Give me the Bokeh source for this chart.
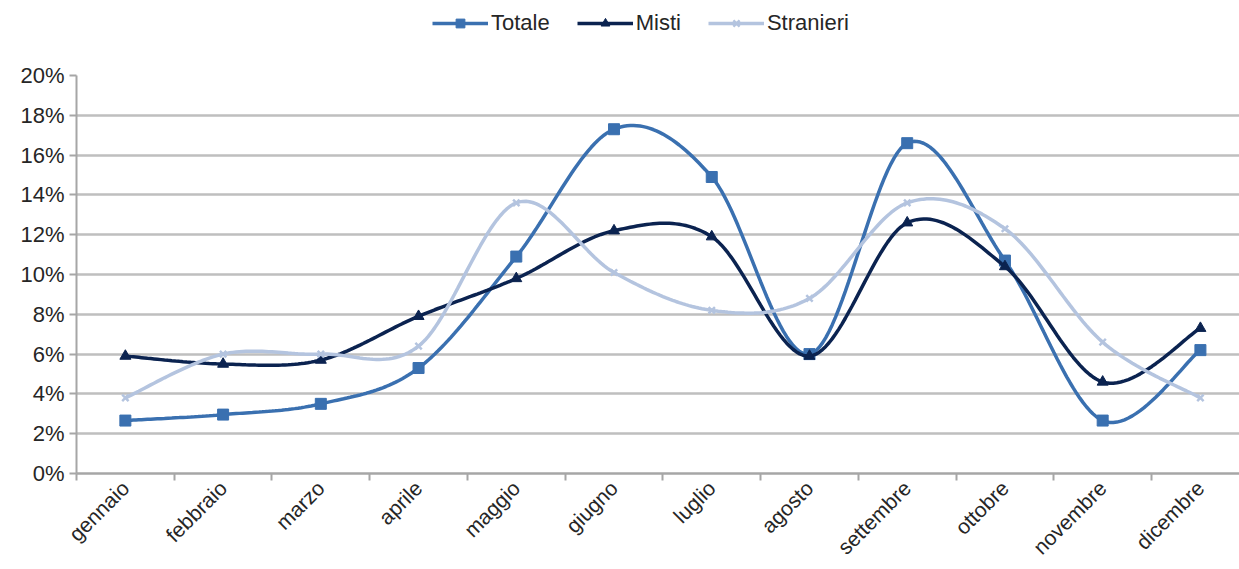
import numpy as np
from bokeh.plotting import figure
from bokeh.layouts import column
from bokeh.models import (Range1d, FixedTicker, NumeralTickFormatter, Legend, LegendItem)
from bokeh.embed import file_html
from bokeh.resources import INLINE

months = ["gennaio", "febbraio", "marzo", "aprile", "maggio", "giugno",
          "luglio", "agosto", "settembre", "ottobre", "novembre", "dicembre"]
totale = [0.0266, 0.0296, 0.035, 0.053, 0.109, 0.173, 0.149, 0.060, 0.166, 0.107, 0.0266, 0.062]
misti = [0.059, 0.055, 0.057, 0.079, 0.098, 0.122, 0.119, 0.059, 0.126, 0.104, 0.046, 0.073]
stranieri = [0.038, 0.060, 0.060, 0.064, 0.136, 0.101, 0.082, 0.088, 0.136, 0.123, 0.066, 0.038]

series = [("Totale", totale, "#3A70B0", "square"),
          ("Misti", misti, "#0B2350", "triangle"),
          ("Stranieri", stranieri, "#B4C4DF", "x")]

FONT = "Liberation Sans"
xs = np.arange(len(months)) + 0.5


def smooth(x, y, n=30):
    x = np.asarray(x, float)
    y = np.asarray(y, float)
    px, py = [], []
    m = len(x)
    for i in range(m - 1):
        x0, y0 = (x[i - 1], y[i - 1]) if i > 0 else (x[i], y[i])
        x3, y3 = (x[i + 2], y[i + 2]) if i + 2 < m else (x[i + 1], y[i + 1])
        x1, y1 = x[i], y[i]
        x2, y2 = x[i + 1], y[i + 1]
        c1x, c1y = x1 + (x2 - x0) / 6, y1 + (y2 - y0) / 6
        c2x, c2y = x2 - (x3 - x1) / 6, y2 - (y3 - y1) / 6
        t = np.linspace(0, 1, n, endpoint=(i == m - 2))
        a = (1 - t) ** 3
        b = 3 * (1 - t) ** 2 * t
        c = 3 * (1 - t) * t ** 2
        d = t ** 3
        px.extend(a * x1 + b * c1x + c * c2x + d * x2)
        py.extend(a * y1 + b * c1y + c * c2y + d * y2)
    return px, py


LEG_H = 45
LEFT = 76
p = figure(width=1239, height=569 - LEG_H, output_backend="svg", toolbar_location=None,
           x_range=Range1d(0, 11.9), y_range=Range1d(0, 0.2),
           min_border_left=LEFT, min_border_right=0, min_border_top=75 - LEG_H,
           min_border_bottom=96)
p.outline_line_color = None
p.background_fill_color = "white"
p.border_fill_color = "white"

# grid
p.xgrid.visible = False
p.ygrid.grid_line_color = "#BFBFBF"
p.ygrid.grid_line_width = 2.5

# y axis
p.yaxis.ticker = FixedTicker(ticks=[i / 100 for i in range(0, 21, 2)])
p.yaxis.formatter = NumeralTickFormatter(format="0%")
p.yaxis.axis_line_color = "#A6A6A6"
p.yaxis.axis_line_width = 2
p.yaxis.major_tick_line_color = "#A6A6A6"
p.yaxis.major_tick_line_width = 2
p.yaxis.major_tick_out = 7
p.yaxis.major_tick_in = 0
p.yaxis.minor_tick_line_color = None
p.yaxis.major_label_text_font = FONT
p.yaxis.major_label_text_font_size = "22px"
p.yaxis.major_label_text_color = "#262626"
p.yaxis.major_label_standoff = 5

# x axis
p.xaxis.ticker = FixedTicker(ticks=list(xs), minor_ticks=list(range(0, 13)))
p.xaxis.major_label_overrides = {float(x): m for x, m in zip(xs, months)}
p.xaxis.major_label_orientation = np.pi / 4
p.xaxis.axis_line_color = "#A6A6A6"
p.xaxis.axis_line_width = 2.5
p.xaxis.major_tick_line_color = None
p.xaxis.minor_tick_line_color = "#A6A6A6"
p.xaxis.minor_tick_line_width = 2
p.xaxis.minor_tick_out = 7
p.xaxis.minor_tick_in = 0
p.xaxis.major_label_text_font = FONT
p.xaxis.major_label_text_font_size = "21px"
p.xaxis.major_label_text_color = "#262626"
p.xaxis.major_label_standoff = 4

# legend figure (its frame is aligned with the main frame by the column layout)
lf = figure(width=1239, height=LEG_H, output_backend="svg", toolbar_location=None,
            x_range=Range1d(0, 1), y_range=Range1d(0, 1),
            min_border_left=LEFT, min_border_right=0, min_border_top=0, min_border_bottom=0)
lf.axis.visible = False
lf.grid.visible = False
lf.outline_line_color = None
lf.background_fill_color = "white"
lf.border_fill_color = "white"

items = []
for name, vals, color, marker in series:
    sx, sy = smooth(xs, vals)
    p.line(sx, sy, line_color=color, line_width=3.5)
    p.scatter(xs, vals, marker=marker, size=11 if marker != "x" else 9,
              fill_color=color, line_color=color, line_width=2.5 if marker == "x" else 1)
    # off-range proxy glyphs, only used to draw the legend swatches
    ln = lf.line([-5, -4], [-5, -4], line_color=color, line_width=3.5)
    sc = lf.scatter([-5], [-5], marker=marker, size=11 if marker != "x" else 9,
                    fill_color=color, line_color=color, line_width=2.5 if marker == "x" else 1)
    items.append(LegendItem(label=name, renderers=[ln, sc]))

legend = Legend(items=items, orientation="horizontal", location=(432 - LEFT, 9),
                label_text_font=FONT, label_text_font_size="22px", label_text_color="#262626",
                glyph_width=56, glyph_height=22, label_standoff=3, spacing=27,
                padding=0, margin=0, border_line_color=None, background_fill_alpha=0)
lf.add_layout(legend, "center")

open("out.html", "w").write(file_html(column(lf, p, spacing=0), INLINE))
